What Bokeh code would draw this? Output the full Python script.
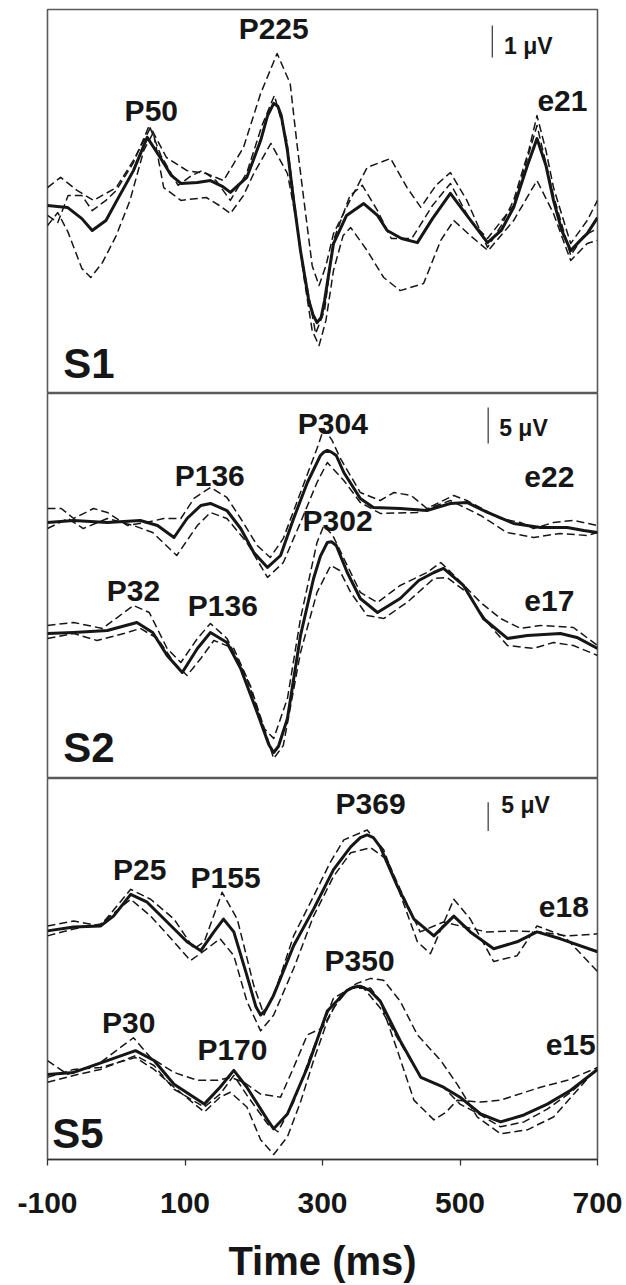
from bokeh.plotting import figure
from bokeh.layouts import column
from bokeh.models import Range1d, FixedTicker, Label
from bokeh.embed import file_html
from bokeh.resources import INLINE

# ---------------- data (time in ms, amplitude in microvolts) ----------------
# Panel S1, electrode e21
e21_mean_t = [-100,-71,-50,-35,-15,1,25,45,64,80,94,118,137,155,166,190,210,220,229,235,240,249,258,268,280,286,292,298,303,316,335,360,380,394,415,438,460,486,510,540,560,578,598,612,625,636,648,661,675,685,700]
e21_mean_v = [0,-0.06,-0.41,-0.78,-0.47,0.16,1.09,2.13,1.5,0.94,0.69,0.72,0.78,0.59,0.41,0.88,2.03,2.8,3.19,3.1,2.81,1.72,0.16,-1.41,-2.97,-3.4,-3.66,-3.5,-2.97,-1.19,-0.31,0.06,-0.31,-0.78,-1.03,-1.16,-0.41,0.38,-0.31,-1.16,-0.78,-0.06,1.25,2.09,1.25,0.16,-0.78,-1.41,-1.09,-0.88,-0.38]
e21_a_t = [-100,-81,-57,-33,0,25,50,73,103,131,156,185,210,234,253,263,273,285,295,305,316,340,365,399,423,443,465,486,510,540,560,578,600,612,625,636,661,685,700]
e21_a_v = [0.56,0.88,0.47,0.16,0.56,1.41,2.44,1.5,1.09,1.0,0.78,1.81,3.5,4.75,3.81,1.9,0.16,-1.88,-2.5,-1.88,-0.88,0.16,1.19,1.47,0.56,-0.06,0.63,1.03,0.16,-1.31,-0.63,0.16,1.72,2.81,1.72,0.56,-1.19,-0.47,0.16]
e21_b_t = [-100,-85,-70,-50,-37,-20,0,20,40,54,69,94,131,150,166,185,200,225,249,262,273,285,295,305,316,330,341,365,389,413,447,472,491,515,541,578,612,636,661,685,700]
e21_b_v = [-0.63,-0.22,-0.84,-1.97,-2.25,-1.78,-0.94,0.16,1.72,2.28,0.56,0.16,0.25,0,-0.25,0.31,1.0,1.94,1.0,-0.47,-2.25,-3.91,-4.38,-3.59,-2.03,-0.94,-0.69,-1.41,-2.25,-2.66,-2.44,-1.09,-0.47,-0.94,-1.41,-0.47,0.78,-0.25,-1.72,-1.19,-1.09]
e21_c_t = [-100,-85,-70,-50,-35,-15,0,25,48,65,90,110,125,145,166,190,212,230,248,268,290,303,316,340,358,380,400,430,460,486,515,540,578,612,636,661,680,700]
e21_c_v = [-0.31,-0.53,0.31,0.31,-0.16,0.16,0.47,1.34,2.5,1.56,0.63,0.94,1.09,0.78,0.16,1.03,2.5,3.44,2.03,-1.41,-4.0,-3.28,-1.09,0.31,0.63,-0.16,-1.03,-1.03,0,0.69,-0.47,-1.03,0,2.5,0.31,-1.56,-0.94,-0.72]

# Panel S2, electrode e22 (upper trace)
e22_mean_t = [-100,-62,-13,35,60,84,103,123,137,161,181,200,220,239,258,278,297,302,307,313,320,331,355,374,413,452,486,510,540,578,617,656,680,700]
e22_mean_v = [-0.97,-0.69,-0.97,-0.69,-1.39,-3.06,-0.42,1.39,1.67,0.69,-1.81,-5.14,-7.22,-5.56,-0.42,4.58,8.33,8.8,9.03,8.8,8.33,5.97,2.36,1.11,0.97,0.69,1.67,1.81,0.42,-1.11,-1.67,-1.67,-2.08,-2.36]
e22_a_t = [-100,-80,-62,-33,-13,16,44,69,94,113,137,161,181,205,224,243,268,292,302,314,326,355,384,404,429,452,491,510,559,588,607,636,665,700]
e22_a_v = [0.97,0.97,-0.42,0.97,0.42,-1.39,-0.97,-0.42,-0.42,2.36,3.89,2.5,-0.42,-4.17,-5.83,-3.19,3.19,9.31,12.08,10.42,7.92,3.19,2.08,3.19,2.78,0.97,2.78,2.08,-0.42,-0.97,-1.81,-0.97,-0.69,-1.39]
e22_b_t = [-100,-70,-48,-13,25,53,88,118,137,161,190,220,243,268,292,307,331,355,384,438,486,530,568,607,645,685,700]
e22_b_v = [-1.81,-0.42,-1.81,-0.42,-1.39,-2.36,-5.56,-1.39,0.42,-0.42,-3.75,-8.61,-6.53,-0.97,4.58,7.36,4.86,1.81,0.28,0.42,2.08,0,-2.36,-3.06,-2.5,-2.78,-2.36]

# Panel S2, electrode e17 (lower trace, own baseline)
e17_mean_t = [-100,-62,-13,30,53,74,96,118,137,161,181,205,222,229,236,249,268,287,297,307,313,320,336,355,380,413,440,462,476,505,534,569,598,646,670,700]
e17_mean_v = [-0.14,0,0.28,1.39,0,-3.19,-5.56,-2.22,0,-1.39,-5.0,-11.11,-15.6,-16.67,-15.8,-11.94,-0.42,7.5,10.6,12.5,12.6,12.08,8.33,4.72,2.78,4.72,7.22,8.33,8.89,6.53,1.94,-0.83,-0.42,-0.14,-0.69,-2.22]
e17_a_t = [-100,-62,-20,25,48,74,94,118,137,161,190,215,229,249,268,292,302,315,331,355,380,413,452,472,496,530,559,588,617,665,700]
e17_a_v = [0.97,1.39,0.56,3.75,2.78,-2.22,-4.17,-0.83,1.25,-0.83,-6.39,-13.33,-14.72,-9.17,1.94,12.5,14.86,13.47,10.28,5.56,4.17,6.53,8.33,9.72,7.5,4.17,1.94,0.56,0.97,0.69,-1.81]
e17_b_t = [-100,-62,-28,11,35,60,84,103,123,142,171,195,220,229,243,268,292,312,325,341,365,389,423,462,481,510,540,569,607,636,665,700]
e17_b_v = [-0.83,-0.14,-1.11,-0.14,0.56,-0.83,-4.17,-5.97,-3.61,-1.11,-2.22,-7.36,-14.72,-17.5,-15.69,-2.78,5.56,9.31,8.61,5.56,2.36,1.94,4.17,7.5,7.64,5.56,1.39,-1.81,-2.22,-1.39,-1.81,-3.19]

# Panel S5, electrode e18 (upper trace)
e18_mean_t = [-100,-62,-23,-4,21,45,74,103,123,142,156,171,190,203,210,218,229,258,287,316,341,355,365,374,384,409,433,462,491,515,549,583,612,646,700]
e18_mean_v = [-0.34,0.34,0.52,2.24,6.03,4.66,1.21,-2.24,-3.79,-0.52,1.72,-0.52,-8.1,-13.5,-15.0,-14.0,-11.55,-2.93,3.45,10.34,14.31,15.9,16.38,15.9,14.31,7.41,1.72,-1.21,2.24,-0.52,-3.45,-2.24,-0.52,-1.72,-3.97]
e18_a_t = [-100,-62,-23,21,50,84,113,128,154,176,200,215,234,258,287,311,331,365,389,409,438,457,491,515,549,583,612,651,700]
e18_a_v = [0.52,1.38,0.52,6.9,5.17,1.72,-3.45,-2.24,6.38,1.72,-9.83,-15.0,-9.83,-1.21,5.69,11.55,15.52,17.24,13.79,7.41,-2.24,-4.31,5.17,1.72,-5.69,-4.66,0.52,-1.21,-7.41]
e18_b_t = [-100,-62,-23,21,50,84,108,128,151,171,190,210,229,258,287,316,341,370,394,413,442,476,500,539,578,617,656,700]
e18_b_v = [-1.21,0,0.86,5.17,2.24,-2.24,-5.52,-3.79,-1.72,-4.66,-12.59,-17.76,-15.0,-6.9,2.24,9.14,13.28,14.14,12.07,6.9,-0.52,1.21,0.52,-0.52,-0.34,-0.52,-1.21,-0.86]

# Panel S5, electrode e15 (lower trace, own baseline)
e15_mean_t = [-100,-62,-13,28,55,84,128,151,171,190,220,229,249,278,307,336,345,355,368,384,413,443,476,500,530,559,593,627,661,700]
e15_mean_v = [-3.79,-3.45,-1.38,0.34,-1.38,-5.52,-8.97,-6.03,-3.1,-6.03,-11.72,-13.28,-10.69,-2.59,7.24,10.86,11.4,11.55,10.9,8.97,2.07,-4.31,-6.03,-7.76,-10.69,-12.07,-10.86,-8.97,-6.55,-2.93]
e15_a_t = [-100,-71,-23,25,50,84,118,147,166,186,210,239,258,278,300,316,336,351,370,384,409,433,462,480,496,530,559,617,656,700]
e15_a_v = [-1.38,-3.79,-1.72,2.59,-0.86,-3.45,-4.83,-4.83,-4.31,-5.17,-7.24,-7.76,-2.59,3.1,4.31,7.76,10.86,11.72,11.21,8.97,0.34,-8.28,-11.72,-10.34,-8.28,-8.62,-8.28,-6.03,-4.83,-2.59]
e15_b_t = [-100,-62,-23,28,55,84,128,151,166,190,210,229,249,268,287,307,326,350,370,389,413,438,472,496,525,559,598,636,700]
e15_b_v = [-4.31,-2.93,-2.59,-0.86,-2.93,-6.03,-10.34,-7.76,-6.9,-9.48,-15.17,-17.76,-14.66,-8.62,-1.38,5.52,10.0,12.07,12.93,12.59,8.97,3.1,-1.38,-5.52,-11.21,-14.14,-13.45,-11.21,-2.59]
e15_c_t = [-100,-62,-23,28,55,84,128,151,171,190,220,235,258,287,316,341,360,384,413,443,476,500,530,559,593,627,661,700]
e15_c_v = [-5.17,-3.97,-2.93,-0.52,-2.24,-6.38,-9.48,-7.24,-3.97,-7.41,-12.41,-13.79,-8.62,0.86,9.48,11.21,11.21,7.76,1.72,-4.31,-6.03,-8.97,-10.86,-12.93,-12.07,-9.83,-6.9,-2.93]

x_ticks = [-100, 100, 300, 500, 700]
x_tick_text = {-100: "-100"}
x_title = "Time (ms)"

# ---------------- layout / style ----------------
FONT = "Liberation Sans"
INK = "#161616"
W = 626
LEFT, RIGHT = 47, 29


def make_panel(height, yr, top=0, bottom=0, show_x=False):
    p = figure(width=W, height=height, x_range=Range1d(-100, 700), y_range=Range1d(*yr),
               output_backend="svg", toolbar_location=None,
               x_axis_location="below" if show_x else None, y_axis_location=None,
               min_border_left=LEFT, min_border_right=RIGHT,
               min_border_top=top, min_border_bottom=bottom)
    p.grid.visible = False
    p.outline_line_color = "#5a5a5a"
    p.outline_line_width = 1.6
    p.background_fill_color = "white"
    p.border_fill_color = "white"
    return p


def traces(p, groups, offset=0.0):
    for (mt, mv), dashed in groups:
        for (dt, dv) in dashed:
            p.line(dt, [v + offset for v in dv], line_color=INK, line_width=1.5,
                   line_dash="8 4", line_join="round")
        p.line(mt, [v + offset for v in mv], line_color=INK, line_width=3.0, line_join="round")


def txt(p, text, x, y, size, align="center", style="bold"):
    p.add_layout(Label(x=x, y=y, text=text, text_font=FONT, text_font_size=size,
                       text_font_style=style, text_color=INK, text_align=align,
                       text_baseline="middle"))


def scalebar(p, t, v0, v1, label_t, label_v, text):
    p.segment(x0=[t], y0=[v0], x1=[t], y1=[v1], line_color="#444444", line_width=1.3)
    txt(p, text, label_t, label_v, "23px", align="left")


PEAK = "30px"
SLAB = "42px"

# Panel 1 (S1)
p1 = make_panel(393, (-5.875, 6.125), top=9)
traces(p1, [((e21_mean_t, e21_mean_v), [(e21_a_t, e21_a_v), (e21_b_t, e21_b_v), (e21_c_t, e21_c_v)])])
for t_, x_, y_ in [("P50", 51, 2.97), ("P225", 229, 5.53), ("e21", 649, 3.28)]:
    txt(p1, t_, x_, y_, PEAK)
txt(p1, "S1", -77, -4.94, SLAB, align="left")
scalebar(p1, 547, 4.625, 5.625, 564, 5.0, "1 \u03bcV")

# Panel 2 (S2)
E17_OFF = -16.25
p2 = make_panel(385, (-36.53, 16.94))
traces(p2, [((e22_mean_t, e22_mean_v), [(e22_a_t, e22_a_v), (e22_b_t, e22_b_v)])])
traces(p2, [((e17_mean_t, e17_mean_v), [(e17_a_t, e17_a_v), (e17_b_t, e17_b_v)])], offset=E17_OFF)
for t_, x_, y_ in [("P136", 136, 5.56), ("P304", 315, 12.78), ("P302", 322, -0.69),
                   ("P32", 25, -10.42), ("P136", 155, -12.5), ("e22", 630, 5.28), ("e17", 630, -11.81)]:
    txt(p2, t_, x_, y_, PEAK)
txt(p2, "S2", -77, -32.2, SLAB, align="left")
scalebar(p2, 541, 10.0, 15.0, 557, 12.2, "5 \u03bcV")

# Panel 3 (S5) with time axis
E15_OFF = -21.55
p3 = make_panel(507, (-40.17, 26.21), bottom=122, show_x=True)
traces(p3, [((e18_mean_t, e18_mean_v), [(e18_a_t, e18_a_v), (e18_b_t, e18_b_v)])])
traces(p3, [((e15_mean_t, e15_mean_v), [(e15_a_t, e15_a_v), (e15_b_t, e15_b_v), (e15_c_t, e15_c_v)])], offset=E15_OFF)
for t_, x_, y_ in [("P25", 34, 10.34), ("P155", 159, 8.97), ("P369", 370, 21.9), ("e18", 651, 3.79),
                   ("P350", 354, -5.52), ("P30", 18, -16.38), ("P170", 169, -21.03), ("e15", 661, -20.17)]:
    txt(p3, t_, x_, y_, PEAK)
txt(p3, "S5", -93, -35.69, SLAB, align="left")
scalebar(p3, 541, 17.07, 22.07, 560, 21.55, "5 \u03bcV")

ax = p3.xaxis[0]
ax.ticker = FixedTicker(ticks=x_ticks)
ax.major_label_overrides = x_tick_text
ax.minor_tick_line_color = None
ax.major_tick_in = 0
ax.major_tick_out = 6
ax.major_tick_line_color = "#333333"
ax.major_tick_line_width = 1.3
ax.axis_line_color = "#333333"
ax.axis_line_width = 1.5
ax.major_label_text_font = FONT
ax.major_label_text_font_style = "bold"
ax.major_label_text_font_size = "30px"
ax.major_label_text_color = INK
ax.major_label_standoff = 27
ax.axis_label = x_title
ax.axis_label_text_font = FONT
ax.axis_label_text_font_style = "bold"
ax.axis_label_text_font_size = "40px"
ax.axis_label_text_color = INK
ax.axis_label_standoff = 23

layout = column(p1, p2, p3, spacing=0)
open("out.html", "w").write(file_html(layout, INLINE))
